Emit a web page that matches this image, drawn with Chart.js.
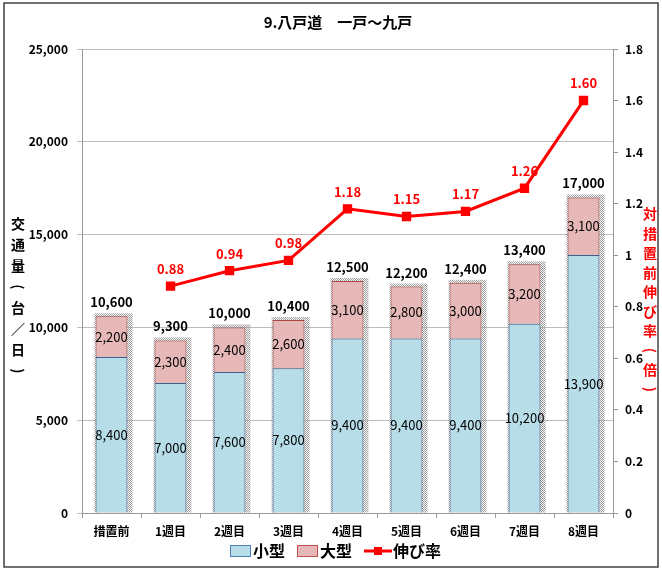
<!DOCTYPE html>
<html>
<head>
<meta charset="utf-8">
<script src="https://cdn.jsdelivr.net/npm/chart.js@4.4.1/dist/chart.umd.min.js"></script>
<style>
html, body { margin: 0; padding: 0; background: #fff; }
#wrap { width: 662px; height: 571px; }
</style>
</head>
<body>
<div id="wrap"><canvas id="trafficChart"></canvas></div>
<script>
// 9.八戸道 一戸～九戸
const labels = ['措置前', '1週目', '2週目', '3週目', '4週目', '5週目', '6週目', '7週目', '8週目'];
const smallCars = [8400, 7000, 7600, 7800, 9400, 9400, 9400, 10200, 13900];
const largeCars = [2200, 2300, 2400, 2600, 3100, 2800, 3000, 3200, 3100];
const totals = [10600, 9300, 10000, 10400, 12500, 12200, 12400, 13400, 17000];
const growthRate = [null, 0.88, 0.94, 0.98, 1.18, 1.15, 1.17, 1.26, 1.60];

const FONT = "'Noto Sans CJK JP', 'Noto Sans', sans-serif";
const fmt = v => v.toLocaleString('en-US');

// dotted shadow pattern for the bars
const patCanvas = document.createElement('canvas');
patCanvas.width = 2; patCanvas.height = 2;
const pctx = patCanvas.getContext('2d');
pctx.fillStyle = '#9a9a9a';
pctx.fillRect(0, 0, 1, 1);
pctx.fillRect(1, 1, 1, 1);

// draws stacked characters, parentheses turned sideways
function verticalText(ctx, chars, x, y0, step) {
    chars.forEach((ch, i) => {
        const y = y0 + i * step;
        if (ch === '(' || ch === ')') {
            ctx.save();
            ctx.translate(x, y);
            ctx.rotate(Math.PI / 2);
            ctx.fillText(ch, 0, 0);
            ctx.restore();
        } else {
            ctx.fillText(ch, x, y);
        }
    });
}

const chromePlugin = {
    id: 'chrome',
    beforeDraw(chart) {
        const ctx = chart.ctx;
        ctx.save();
        ctx.fillStyle = '#fff';
        ctx.fillRect(0, 0, chart.width, chart.height);
        ctx.strokeStyle = '#404040';
        ctx.lineWidth = 1.5;
        ctx.strokeRect(4, 3, chart.width - 8, chart.height - 7);
        ctx.restore();
    },
    beforeDatasetsDraw(chart) {
        const ctx = chart.ctx;
        const bottom = chart.getDatasetMeta(0).data;
        const top = chart.getDatasetMeta(1).data;
        ctx.save();
        ctx.fillStyle = ctx.createPattern(patCanvas, 'repeat');
        bottom.forEach((bar, i) => {
            const t = top[i];
            const left = bar.x - bar.width / 2;
            ctx.fillRect(left - 1, t.y - 3, bar.width + 6, bar.base - t.y + 3);
        });
        ctx.restore();
    },
    afterDatasetsDraw(chart) {
        const ctx = chart.ctx;
        const bottom = chart.getDatasetMeta(0).data;
        const top = chart.getDatasetMeta(1).data;
        const pts = chart.getDatasetMeta(2).data;
        ctx.save();
        ctx.textAlign = 'center';
        ctx.textBaseline = 'middle';
        ctx.fillStyle = '#000';
        ctx.font = '13px ' + FONT;
        bottom.forEach((bar, i) => {
            ctx.fillText(fmt(smallCars[i]), bar.x, (bar.y + bar.base) / 2);
            const t = top[i];
            ctx.fillText(fmt(largeCars[i]), t.x, (t.y + t.base) / 2);
        });
        ctx.font = 'bold 13px ' + FONT;
        top.forEach((t, i) => {
            ctx.fillText(fmt(totals[i]), t.x, t.y - 14);
        });
        ctx.fillStyle = '#ff0000';
        pts.forEach((p, i) => {
            if (growthRate[i] == null) return;
            ctx.fillText(growthRate[i].toFixed(2), p.x, p.y - 17);
        });
        ctx.restore();
    },
    afterDraw(chart) {
        const ctx = chart.ctx;
        ctx.save();
        ctx.textAlign = 'center';
        ctx.textBaseline = 'middle';
        // title
        ctx.fillStyle = '#000';
        ctx.font = 'bold 15px ' + FONT;
        ctx.fillText('9.八戸道　一戸～九戸', 338, 22);
        // vertical axis titles
        ctx.font = 'bold 14px ' + FONT;
        verticalText(ctx, ['交', '通', '量', '(', '台', '／', '日', ')'], 18, 224, 21);
        ctx.fillStyle = '#ff0000';
        verticalText(ctx, ['対', '措', '置', '前', '伸', 'び', '率', '(', '倍', ')'], 650, 214, 19.5);
        // legend
        const ly = 551;
        ctx.lineWidth = 1;
        ctx.fillStyle = '#b7dde8';
        ctx.strokeStyle = '#4a7ebb';
        ctx.fillRect(230, ly - 6, 21, 12);
        ctx.strokeRect(230.5, ly - 5.5, 20, 11);
        ctx.fillStyle = '#e6b9b8';
        ctx.strokeStyle = '#c0504d';
        ctx.fillRect(297, ly - 6, 21, 12);
        ctx.strokeRect(297.5, ly - 5.5, 20, 11);
        ctx.strokeStyle = '#ff0000';
        ctx.lineWidth = 3;
        ctx.beginPath();
        ctx.moveTo(364, ly);
        ctx.lineTo(392, ly);
        ctx.stroke();
        ctx.fillStyle = '#ff0000';
        ctx.fillRect(374, ly - 4, 8, 8);
        ctx.fillStyle = '#000';
        ctx.font = 'bold 16px ' + FONT;
        ctx.textAlign = 'left';
        ctx.fillText('小型', 253, ly);
        ctx.fillText('大型', 320, ly);
        ctx.fillText('伸び率', 393, ly);
        ctx.restore();
    }
};

const trafficctx = document.getElementById('trafficChart').getContext('2d');
const trafficChart = new Chart(trafficctx, {
    type: 'bar',
    data: {
        labels: labels,
        datasets: [{
            label: '小型',
            data: smallCars,
            backgroundColor: '#b7dde8',
            borderColor: '#3c5f8c',
            borderWidth: 1,
            yAxisID: 'y',
            order: 1,
            barPercentage: 0.54,
            categoryPercentage: 1
        }, {
            label: '大型',
            data: largeCars,
            backgroundColor: '#e6b9b8',
            borderColor: '#a94542',
            borderWidth: 1,
            yAxisID: 'y',
            order: 1,
            barPercentage: 0.54,
            categoryPercentage: 1
        }, {
            type: 'line',
            label: '伸び率',
            data: growthRate,
            borderColor: '#ff0000',
            backgroundColor: '#ff0000',
            borderWidth: 3,
            pointStyle: 'rect',
            pointRadius: 4.5,
            pointHoverRadius: 4.5,
            yAxisID: 'y1',
            order: 0,
            spanGaps: false
        }]
    },
    options: {
        responsive: true,
        maintainAspectRatio: false,
        animation: false,
        layout: { padding: { top: 49, left: 0, right: 0, bottom: 0 } },
        plugins: {
            legend: { display: false },
            title: { display: false },
            tooltip: { enabled: false }
        },
        scales: {
            x: {
                stacked: true,
                grid: {
                    offset: true,
                    drawOnChartArea: false,
                    tickLength: 5,
                    color: '#999'
                },
                border: { color: '#999' },
                ticks: {
                    color: '#000',
                    padding: 6,
                    maxRotation: 0,
                    font: { family: FONT, size: 12, weight: 'bold' }
                },
                afterFit: scale => { scale.height = 58; }
            },
            y: {
                stacked: true,
                position: 'left',
                min: 0,
                max: 25000,
                grid: { color: '#bdbdbd', tickLength: 5 },
                border: { color: '#999' },
                ticks: {
                    stepSize: 5000,
                    color: '#000',
                    padding: 9,
                    font: { family: FONT, size: 12, weight: 'bold' },
                    callback: v => fmt(v)
                },
                afterFit: scale => { scale.width = 82; }
            },
            y1: {
                position: 'right',
                min: 0,
                max: 1.8,
                grid: { drawOnChartArea: false, tickLength: 5, color: '#999' },
                border: { color: '#999' },
                ticks: {
                    stepSize: 0.2,
                    color: '#000',
                    padding: 7,
                    font: { family: FONT, size: 12, weight: 'bold' },
                    callback: v => String(Math.round(v * 10) / 10)
                },
                afterFit: scale => { scale.width = 49; }
            }
        }
    },
    plugins: [chromePlugin]
});
</script>
</body>
</html>
